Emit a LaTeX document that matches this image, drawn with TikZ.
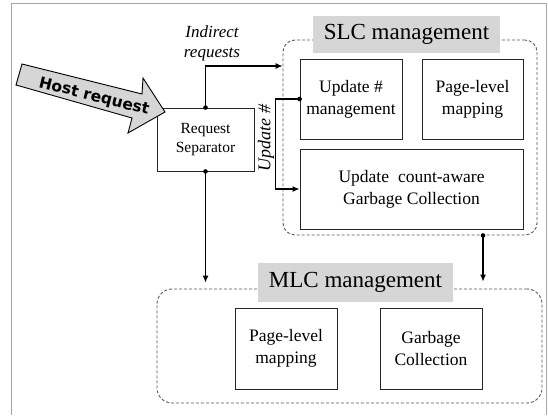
\documentclass[tikz,border=0pt]{standalone}
\usepackage{fontspec}
\setmainfont{Liberation Serif}
\newfontfamily\hostfont{DejaVu Sans}
\usetikzlibrary{arrows.meta}
\begin{document}
\begin{tikzpicture}[x=1pt,y=-1pt,
  box/.style={draw=black!85, line width=0.9pt, fill=white, align=center, inner sep=0pt,
              font=\fontsize{17.5}{22}\selectfont},
  group/.style={draw=black!65, line width=0.9pt, dash pattern=on 3pt off 2pt,
                rounded corners=12pt, inner sep=0pt},
  tag/.style={fill=black!16, inner sep=0pt, font=\fontsize{23}{26}\selectfont},
  link/.style={line width=1.2pt, -{Latex[length=7pt,width=6pt]}},
  tap/.style={fill=black},
]
\useasboundingbox (0,0) rectangle (548,415);

% outer frame (open at the bottom)
\draw[black!35, line width=1pt] (11,415) -- (11,3) -- (546,3) -- (546,415);

% group regions and their titles
\node[group, minimum width=254pt, minimum height=195pt] (slc) at (410,137.5) {};
\node[group, rounded corners=15pt, minimum width=385pt, minimum height=114pt] (mlc) at (349.5,346) {};
\node[tag, minimum width=187pt, minimum height=37pt] (slct) at (406.5,34.5) {SLC management};
\node[tag, minimum width=195pt, minimum height=39pt] (mlct) at (355.5,282.5) {MLC management};

% SLC components
\node[box, minimum width=102pt, minimum height=80pt] (upd) at (351,99) {Update \#\\management};
\node[box, minimum width=101pt, minimum height=80pt] (spm) at (472.5,99) {Page-level\\mapping};
\node[box, minimum width=223pt, minimum height=80pt] (gc) at (411.5,189)
  {Update\hspace{9pt}count-aware\\Garbage Collection};

% MLC components
\node[box, minimum width=102pt, minimum height=81pt] (mpm) at (286,348.5) {Page-level\\mapping};
\node[box, minimum width=102pt, minimum height=81pt] (mgc) at (431,348.5) {Garbage\\Collection};

% request separator
\node[box, minimum width=97pt, minimum height=63pt, font=\fontsize{15.5}{19}\selectfont] (sep) at (205.5,139.5) {Request\\Separator};

% incoming host request arrow
\draw[fill=black!16, line width=0.9pt] (22,64) -- (142,94) -- (143,78) -- (165,112)
  -- (128,133) -- (132,118) -- (16,85) -- cycle;
\node[rotate=-14, inner sep=0pt, font=\hostfont\bfseries\fontsize{15.5}{18}\selectfont] (host) at (94,97) {Host request};

% connector labels
\node[align=center, font=\itshape\fontsize{17}{20}\selectfont] (ind) at (212,43) {Indirect\\requests};
\node[rotate=90, font=\itshape\fontsize{18}{20}\selectfont] (updl) at (266,138) {Update \#};

% helper coordinates
\coordinate (yind) at (0,66);
\coordinate (xc) at (483,0);

% connectors
\draw[link] (sep.north) |- (slc.west |- yind);
\fill[tap] (sep.north) circle (2.3pt);

\draw[link] (upd.west) -- ++(-24,0) |- (gc.west);
\fill[tap] (upd.west) circle (2.3pt);

\draw[link, shorten >=6pt] (sep.south) -- (sep.south |- mlc.north);
\fill[tap] (sep.south) circle (2.3pt);

\draw[link, shorten >=7pt] (slc.south -| xc) -- (mlc.north -| xc);
\fill[tap] (slc.south -| xc) circle (2.3pt);
\end{tikzpicture}
\end{document}
